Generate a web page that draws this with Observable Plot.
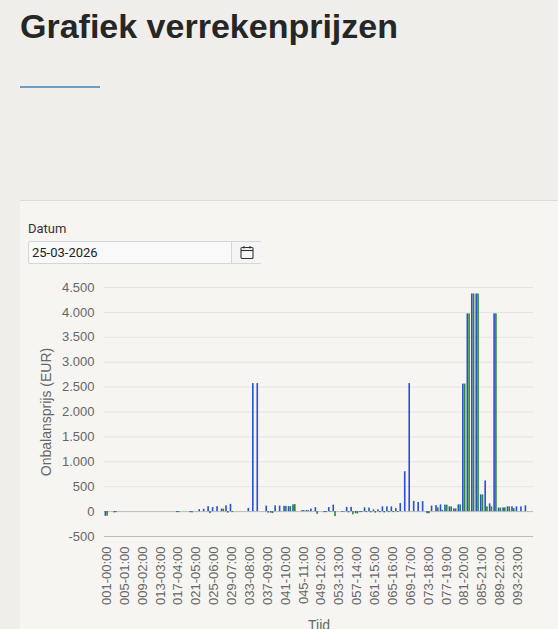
<!DOCTYPE html>
<html><head><meta charset="utf-8">
<script src="https://cdn.jsdelivr.net/npm/d3@7"></script>
<script src="https://cdn.jsdelivr.net/npm/@observablehq/plot@0.6"></script>
<style>
html,body{margin:0;padding:0;}
body{width:558px;height:629px;overflow:hidden;background:#f0eeeb;position:relative;font-family:"Liberation Sans",Arial,sans-serif;}
h1{position:absolute;left:20px;top:9px;margin:0;font-size:34px;line-height:34px;font-weight:bold;color:#262626;white-space:nowrap;}
.rule{position:absolute;left:20px;top:86px;width:80px;height:2px;background:#6e9bc0;}
.panel{position:absolute;left:20px;top:200px;right:0;bottom:0;background:#f6f5f2;border-top:1px solid #dddbd8;}
.lbl{position:absolute;left:28px;top:221px;font:13px/15px Roboto,sans-serif;color:#333;}
.inp{position:absolute;left:28px;top:241px;width:232px;height:21px;border:1px solid #d6d6d6;border-radius:2px;background:#f9f9f9;}
.inp .val{position:absolute;left:3px;top:0;font:13px/21px Roboto,sans-serif;color:#222;}
.inp .btn{position:absolute;left:202px;top:0;width:30px;height:21px;border-left:1px solid #d6d6d6;background:#f5f5f5;}
.inp .btn svg{position:absolute;left:8px;top:3px;}
#chart{position:absolute;left:20px;top:270px;}
</style>
</head><body>
<h1>Grafiek verrekenprijzen</h1>
<div class="rule"></div>
<div class="panel"></div>
<div class="lbl">Datum</div>
<div class="inp"><div class="val">25-03-2026</div><div class="btn"><svg width="14" height="15" viewBox="0 0 14 15"><rect x="1" y="2.5" width="12" height="11" rx="1" fill="none" stroke="#333" stroke-width="1.1"/><line x1="1" y1="5.5" x2="13" y2="5.5" stroke="#333" stroke-width="1.1"/><line x1="4" y1="1" x2="4" y2="3.5" stroke="#333" stroke-width="1.1"/><line x1="10" y1="1" x2="10" y2="3.5" stroke="#333" stroke-width="1.1"/></svg></div></div>
<div id="chart"></div>
<script>
const categories = [
"001-00:00","002-00:15","003-00:30","004-00:45","005-01:00","006-01:15","007-01:30","008-01:45",
"009-02:00","010-02:15","011-02:30","012-02:45","013-03:00","014-03:15","015-03:30","016-03:45",
"017-04:00","018-04:15","019-04:30","020-04:45","021-05:00","022-05:15","023-05:30","024-05:45",
"025-06:00","026-06:15","027-06:30","028-06:45","029-07:00","030-07:15","031-07:30","032-07:45",
"033-08:00","034-08:15","035-08:30","036-08:45","037-09:00","038-09:15","039-09:30","040-09:45",
"041-10:00","042-10:15","043-10:30","044-10:45","045-11:00","046-11:15","047-11:30","048-11:45",
"049-12:00","050-12:15","051-12:30","052-12:45","053-13:00","054-13:15","055-13:30","056-13:45",
"057-14:00","058-14:15","059-14:30","060-14:45","061-15:00","062-15:15","063-15:30","064-15:45",
"065-16:00","066-16:15","067-16:30","068-16:45","069-17:00","070-17:15","071-17:30","072-17:45",
"073-18:00","074-18:15","075-18:30","076-18:45","077-19:00","078-19:15","079-19:30","080-19:45",
"081-20:00","082-20:15","083-20:30","084-20:45","085-21:00","086-21:15","087-21:30","088-21:45",
"089-22:00","090-22:15","091-22:30","092-22:45","093-23:00","094-23:15","095-23:30","096-23:45"
];
const tickLabels = ["001-00:00","005-01:00","009-02:00","013-03:00","017-04:00","021-05:00","025-06:00","029-07:00",
"033-08:00","037-09:00","041-10:00","045-11:00","049-12:00","053-13:00","057-14:00","061-15:00",
"065-16:00","069-17:00","073-18:00","077-19:00","081-20:00","085-21:00","089-22:00","093-23:00"];
const yTicks = [-500,0,500,1000,1500,2000,2500,3000,3500,4000,4500];
const blueValues = [
-95,0,-25,0,0,0,0,0,0,0,0,0,0,0,0,0,
-20,0,0,-20,0,40,45,100,80,100,50,115,145,0,0,0,
65,2570,2570,0,110,-30,115,110,105,100,135,0,20,20,50,80,
0,-20,80,130,0,-15,85,85,-40,-20,75,70,35,35,95,95,
95,60,160,800,2570,205,185,200,-40,110,120,135,130,95,55,135,
2560,3970,4370,4370,335,615,155,3970,70,75,95,95,95,95,115,0
];
const greenValues = [
-90,0,-20,0,0,0,0,0,0,0,0,0,0,0,0,0,
-20,0,0,-25,0,0,0,-40,0,0,50,-30,-20,0,0,0,
0,0,0,0,-30,-40,0,0,105,100,140,0,20,20,0,-55,
0,-20,-10,-100,0,-10,-25,-65,-50,-15,-20,-25,-30,-20,-25,-20,
-20,-15,0,0,0,0,0,0,-45,0,75,27,130,95,55,135,
2560,3970,4370,4370,335,95,95,3970,70,75,95,60,0,0,0,0
];

const W = 538, H = 370, ML = 84, MR = 25, MT = 17, MB = 104;
const step = (W - ML - MR) / categories.length;
const slot = step * 0.8 / 2;
const innerL = step * 0.1 + slot * 0.05;
const barW = slot * 0.9;
const otherSide = step - innerL - barW;

const blueRows = categories.map((c, i) => ({cat: c, value: blueValues[i]})).filter(d => d.value !== 0);
const greenRows = categories.map((c, i) => ({cat: c, value: greenValues[i]})).filter(d => d.value !== 0);

const nl = d3.formatLocale({decimal: ",", thousands: ".", grouping: [3], currency: ["€", ""], minus: "-"});
const fmt = nl.format(",");

const chart = Plot.plot({
  width: W, height: H,
  marginLeft: ML, marginRight: MR, marginTop: MT, marginBottom: MB,
  style: {background: "transparent", fontFamily: "'Liberation Sans', Arial, sans-serif", fontSize: "13px", color: "#666", overflow: "visible"},
  x: {type: "band", domain: categories, padding: 0},
  y: {domain: [-500, 4500]},
  marks: [
    Plot.gridY(yTicks, {stroke: "#e4e4e4", strokeOpacity: 1}),
    Plot.ruleY([0, -500], {stroke: "#bcbcbc"}),
    Plot.barY(blueRows, {x: "cat", y: "value", fill: "#2c4fd4", insetLeft: innerL, insetRight: otherSide}),
    Plot.barY(greenRows, {x: "cat", y: "value", fill: "#2b8a2b", insetLeft: otherSide, insetRight: innerL}),
    Plot.axisY(yTicks, {tickSize: 0, tickPadding: 10, tickFormat: fmt, label: null, fontSize: 13, fill: "#666"}),
    Plot.axisY([], {label: "Onbalansprijs (EUR)", labelArrow: "none", labelAnchor: "center", labelOffset: 63, fontSize: 14, fill: "#666", tickSize: 0}),
    Plot.axisX(tickLabels, {tickSize: 0, tickPadding: 10, tickRotate: -90, label: null, fontSize: 13, fill: "#666"}),
    Plot.axisX([], {label: "Tijd", labelArrow: "none", labelAnchor: "center", labelOffset: 93, fontSize: 14, fill: "#666", tickSize: 0})
  ]
});
document.getElementById("chart").appendChild(chart);
</script>
</body></html>
